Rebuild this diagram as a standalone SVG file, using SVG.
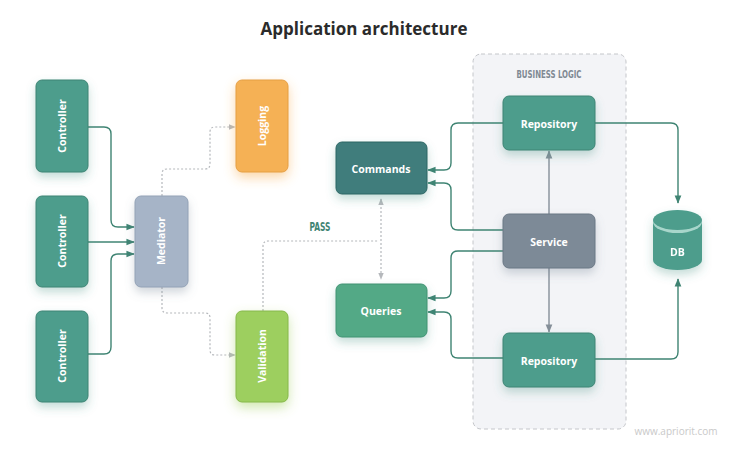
<svg xmlns="http://www.w3.org/2000/svg" width="730" height="461" viewBox="0 0 730 461">
<defs>
<style>
.t{font-family:"Open Sans","Noto Sans","Liberation Sans",sans-serif;font-weight:700;fill:#fff;font-size:10.5px;text-anchor:middle;dominant-baseline:central}
.c{fill:none;stroke:#3f8473;stroke-width:1.4}
.d{fill:none;stroke:#b5b8bc;stroke-width:1.2;stroke-dasharray:2 2}
.g{fill:none;stroke:#858f99;stroke-width:1.4}
.lbl{font-family:"DejaVu Sans Condensed","Liberation Sans",sans-serif;font-weight:600;text-anchor:middle;dominant-baseline:central}
</style>
<filter id="sh" x="-50%" y="-50%" width="200%" height="200%"><feDropShadow dx="0" dy="5" stdDeviation="5" flood-color="#3f8f7e" flood-opacity="0.3"/></filter>
<filter id="shg" x="-50%" y="-50%" width="200%" height="200%"><feDropShadow dx="0" dy="5" stdDeviation="5" flood-color="#6b7a8a" flood-opacity="0.3"/></filter>
<filter id="sho" x="-50%" y="-50%" width="200%" height="200%"><feDropShadow dx="0" dy="5" stdDeviation="6" flood-color="#f6a640" flood-opacity="0.45"/></filter>
<filter id="shv" x="-50%" y="-50%" width="200%" height="200%"><feDropShadow dx="0" dy="5" stdDeviation="6" flood-color="#98cc50" flood-opacity="0.45"/></filter>
<marker id="a" viewBox="0 0 10 10" refX="9" refY="5" markerWidth="6" markerHeight="6" orient="auto"><path d="M0 1L10 5L0 9z" fill="#3f8473"/></marker>
<marker id="ag" viewBox="0 0 10 10" refX="9" refY="5" markerWidth="6" markerHeight="6" orient="auto"><path d="M0 1L10 5L0 9z" fill="#858f99"/></marker>
<marker id="ad" viewBox="0 0 10 10" refX="9" refY="5" markerWidth="6" markerHeight="6" orient="auto-start-reverse"><path d="M0 1L10 5L0 9z" fill="#b5b8bc"/></marker>
</defs>
<rect width="730" height="461" fill="#ffffff"/>
<text x="364" y="28" font-family="'Open Sans','Noto Sans','Liberation Sans',sans-serif" font-weight="700" font-size="17" fill="#2b2b2b" text-anchor="middle" dominant-baseline="central">Application architecture</text>

<g id="business-logic">
<rect x="473" y="54" width="153" height="375" rx="8" fill="#f3f4f7" stroke="#c4c6ca" stroke-width="1" stroke-dasharray="4 3"/>
<text class="lbl" x="549" y="74" font-size="11" fill="#7f8993" textLength="65" lengthAdjust="spacingAndGlyphs">BUSINESS LOGIC</text>
</g>

<g id="connectors">
<path class="c" d="M88 127H104Q111 127 111 134V220Q111 227 118 227H134" marker-end="url(#a)"/>
<path class="c" d="M88 242H134" marker-end="url(#a)"/>
<path class="c" d="M88 354H104Q111 354 111 347V261Q111 254 118 254H134" marker-end="url(#a)"/>
<path class="d" d="M162 196V174Q162 169 167 169H205Q210 169 210 164V132Q210 127 215 127H235" marker-end="url(#ad)"/>
<path class="d" d="M162 287V308Q162 313 167 313H205Q210 313 210 318V350Q210 355 215 355H235" marker-end="url(#ad)"/>
<path class="d" d="M263 311V246Q263 241 268 241H378"/>
<path class="d" d="M381 199V279" marker-start="url(#ad)" marker-end="url(#ad)"/>
<path class="c" d="M503 123H458Q451 123 451 130V163Q451 170 444 170H428" marker-end="url(#a)"/>
<path class="c" d="M503 230H458Q451 230 451 223V190Q451 183 444 183H428" marker-end="url(#a)"/>
<path class="c" d="M503 251H458Q451 251 451 258V291Q451 298 444 298H428" marker-end="url(#a)"/>
<path class="c" d="M503 358H458Q451 358 451 351V319Q451 312 444 312H428" marker-end="url(#a)"/>
<path class="g" d="M549 214V151" marker-end="url(#ag)"/>
<path class="g" d="M549 268V332" marker-end="url(#ag)"/>
<path class="c" d="M595 123H671Q678 123 678 130V203" marker-end="url(#a)"/>
<path class="c" d="M595 359H671Q678 359 678 352V279" marker-end="url(#a)"/>
</g>
<text class="lbl" x="320" y="227" fill="#3f8473" font-size="12" textLength="21" lengthAdjust="spacingAndGlyphs">PASS</text>

<g id="controller-1"><rect x="36" y="80" width="52" height="92" rx="6" fill="#4d9d8c" stroke="#3d8474" stroke-width="1" filter="url(#sh)"/><text class="t" transform="translate(62 126) rotate(-90)">Controller</text></g>
<g id="controller-2"><rect x="36" y="196" width="52" height="91" rx="6" fill="#4d9d8c" stroke="#3d8474" stroke-width="1" filter="url(#sh)"/><text class="t" transform="translate(62 241) rotate(-90)">Controller</text></g>
<g id="controller-3"><rect x="36" y="311" width="52" height="91" rx="6" fill="#4d9d8c" stroke="#3d8474" stroke-width="1" filter="url(#sh)"/><text class="t" transform="translate(62 356) rotate(-90)">Controller</text></g>
<g id="mediator"><rect x="135" y="196" width="53" height="91" rx="6" fill="#a6b4c7" stroke="#93a2b6" stroke-width="1" filter="url(#shg)"/><text class="t" transform="translate(161 241) rotate(-90)">Mediator</text></g>
<g id="logging"><rect x="236" y="80" width="52" height="92" rx="6" fill="#f5b155" stroke="#e59f45" stroke-width="1" filter="url(#sho)"/><text class="t" transform="translate(262 126) rotate(-90)">Logging</text></g>
<g id="validation"><rect x="236" y="311" width="52" height="91" rx="6" fill="#9dcf5e" stroke="#86b84a" stroke-width="1" filter="url(#shv)"/><text class="t" transform="translate(262 356) rotate(-90)">Validation</text></g>
<g id="commands"><rect x="336" y="142" width="91" height="52" rx="6" fill="#3f7d7c" stroke="#2f6665" stroke-width="1" filter="url(#sh)"/><text class="t" x="381" y="169">Commands</text></g>
<g id="queries"><rect x="336" y="284" width="91" height="53" rx="6" fill="#52a986" stroke="#419373" stroke-width="1" filter="url(#sh)"/><text class="t" x="381" y="311">Queries</text></g>
<g id="repository-1"><rect x="503" y="96" width="92" height="54" rx="6" fill="#4d9d8c" stroke="#3d8474" stroke-width="1" filter="url(#sh)"/><text class="t" x="549" y="124">Repository</text></g>
<g id="service"><rect x="503" y="214" width="92" height="54" rx="6" fill="#7d8a97" stroke="#6b7885" stroke-width="1" filter="url(#shg)"/><text class="t" x="549" y="242">Service</text></g>
<g id="repository-2"><rect x="503" y="333" width="92" height="54" rx="6" fill="#4d9d8c" stroke="#3d8474" stroke-width="1" filter="url(#sh)"/><text class="t" x="549" y="361">Repository</text></g>
<g id="db" filter="url(#sh)">
<path d="M653 222V260A24.5 10 0 0 0 702 260V222Z" fill="#4d9d8c"/>
<ellipse cx="677.5" cy="222" rx="24.5" ry="11" fill="#a8d6cb"/>
<ellipse cx="677.5" cy="220" rx="24.5" ry="10" fill="#4d9d8c"/>
<text class="t" x="677.5" y="252">DB</text>
</g>
<text x="676" y="431" font-family="'Open Sans','Liberation Sans',sans-serif" font-size="10" fill="#c9c9c9" text-anchor="middle" dominant-baseline="central">www.apriorit.com</text>
</svg>
